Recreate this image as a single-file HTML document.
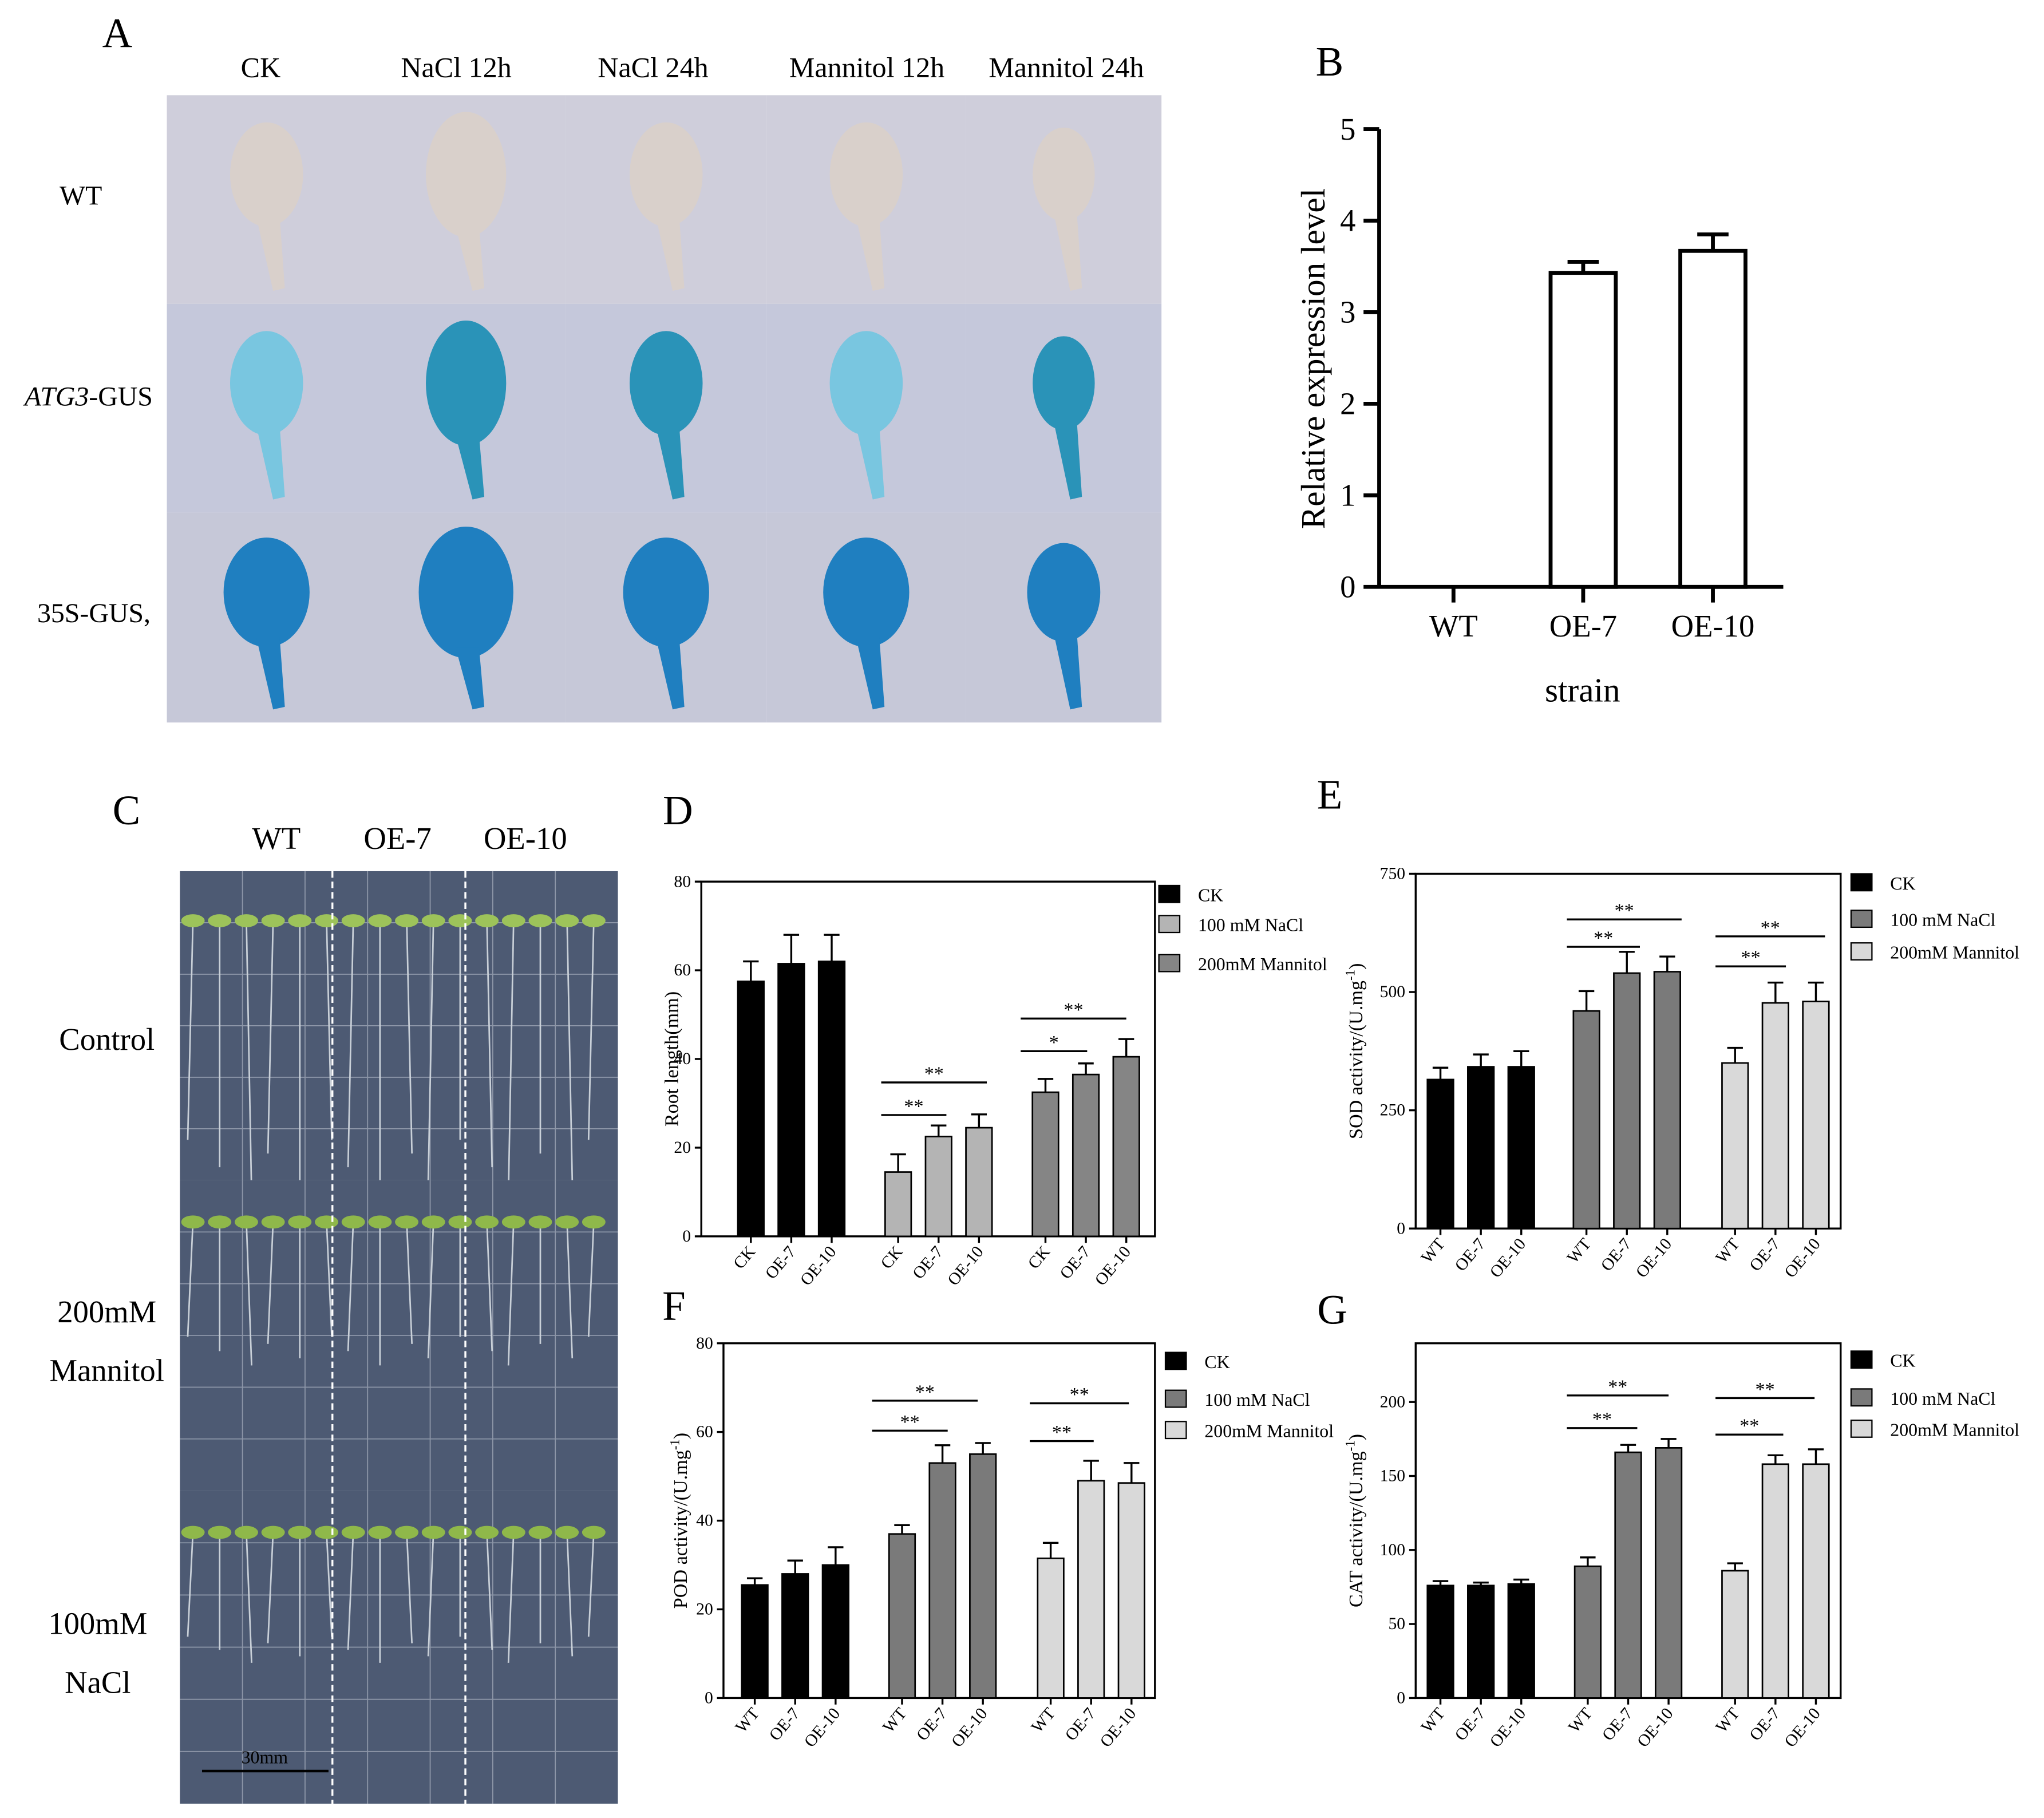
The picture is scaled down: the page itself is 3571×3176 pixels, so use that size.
<!DOCTYPE html>
<html><head><meta charset="utf-8"><style>
html,body{margin:0;padding:0;background:#fff}
svg{display:block}
text{font-family:"Liberation Serif",serif;fill:#000}
</style></head><body>
<svg id="fig" xmlns="http://www.w3.org/2000/svg" width="3571" height="3176" viewBox="0 0 1568 1394" preserveAspectRatio="none">
<rect width="1568" height="1394" fill="#fff"/>
<g id="panelA">
<text x="90" y="36" font-size="32" text-anchor="middle">A</text>
<text x="200" y="59" font-size="22" text-anchor="middle">CK</text>
<text x="350" y="59" font-size="22" text-anchor="middle">NaCl 12h</text>
<text x="501" y="59" font-size="22" text-anchor="middle">NaCl 24h</text>
<text x="665" y="59" font-size="22" text-anchor="middle">Mannitol 12h</text>
<text x="818" y="59" font-size="22" text-anchor="middle">Mannitol 24h</text>
<text x="62" y="157" font-size="21" text-anchor="middle">WT</text>
<text x="68" y="311" font-size="21" text-anchor="middle"><tspan font-style="italic">ATG3</tspan>-GUS</text>
<text x="72" y="477" font-size="21" text-anchor="middle">35S-GUS,</text>
<g id="gridA"></g>
</g>
<g id="panelC">
<text x="97" y="632" font-size="32" text-anchor="middle">C</text>
<text x="212" y="651" font-size="24" text-anchor="middle">WT</text>
<text x="305" y="651" font-size="24" text-anchor="middle">OE-7</text>
<text x="403" y="651" font-size="24" text-anchor="middle">OE-10</text>
<text x="82" y="805" font-size="24" text-anchor="middle">Control</text>
<text x="82" y="1014" font-size="24" text-anchor="middle">200mM</text>
<text x="82" y="1059" font-size="24" text-anchor="middle">Mannitol</text>
<text x="75" y="1253" font-size="24" text-anchor="middle">100mM</text>
<text x="75" y="1298" font-size="24" text-anchor="middle">NaCl</text>
<g id="plates"></g>
</g>
<g id="panelB"></g>
<g id="panelD"></g>
<g id="panelE"></g>
<g id="panelF"></g>
<g id="panelG"></g>
</svg>
<script>
const bCategories = ["WT","OE-7","OE-10"];
const bValues = [0, 3.43, 3.67];
const bErrors = [0, 0.12, 0.18];
const bTicks = [0,1,2,3,4,5];
const dLabels = ["CK","OE-7","OE-10"];
const dCK = [57.5, 61.5, 62];
const dCKErr = [4.5, 6.5, 6];
const dNaCl = [14.5, 22.5, 24.5];
const dNaClErr = [4, 2.5, 3];
const dMan = [32.5, 36.5, 40.5];
const dManErr = [3, 2.5, 4];
const dTicks = [0,20,40,60,80];
const eLabels = ["WT","OE-7","OE-10"];
const eCK = [315, 342, 342];
const eCKErr = [25, 26, 33];
const eNaCl = [460, 540, 543];
const eNaClErr = [42, 45, 32];
const eMan = [350, 477, 480];
const eManErr = [32, 43, 40];
const eTicks = [0,250,500,750];
const fCK = [25.5, 28, 30];
const fCKErr = [1.5, 3, 4];
const fNaCl = [37, 53, 55];
const fNaClErr = [2, 4, 2.5];
const fMan = [31.5, 49, 48.5];
const fManErr = [3.5, 4.5, 4.5];
const fTicks = [0,20,40,60,80];
const gCK = [76, 76, 77];
const gCKErr = [3, 2, 3];
const gNaCl = [89, 166, 169];
const gNaClErr = [6, 5, 6];
const gMan = [86, 158, 158];
const gManErr = [5, 6, 10];
const gTicks = [0,50,100,150,200];

const NS = "http://www.w3.org/2000/svg";
function mk(parent, tag, attrs, txt){
  const e = document.createElementNS(NS, tag);
  for (const k in attrs) e.setAttribute(k, attrs[k]);
  if (txt !== undefined) e.textContent = txt;
  parent.appendChild(e);
  return e;
}

(function(){
  const g = document.getElementById('gridA');
  const cols=[128,281,434,588,741,891], rows=[73,233,393,554];
  const bgs=["#cfcedb","#c5c8db","#c6c8d8"];
  const leafCols=["#d9d0cb","#79c6e0","#1f7fc0"];
  const sizes=[[1,1],[1.1,1.2],[1,1],[1,1],[0.85,0.9]];
  for(let r=0;r<3;r++)for(let c=0;c<5;c++){
    const x=cols[c],y=rows[r],w=cols[c+1]-x,h=rows[r+1]-y;
    const cell=mk(g,'rect',{x:x,y:y,width:w,height:h,fill:bgs[r]});
    
    
    let col=leafCols[r];
    if(r===1 && (c===1||c===2||c===4)) col="#2a93b8";
    const s=sizes[c];
    const cx=x+w/2, cy=y+h*0.38;
    const rx=(r===2?33:28)*s[0], ry=(r===2?42:40)*s[1];
    const leaf=mk(g,'ellipse',{cx:cx,cy:cy,rx:rx,ry:ry,fill:col});
    
    
    const pet=mk(g,'path',{d:`M${cx-8} ${cy+ry-8} L${cx+5} ${y+h-10} L${cx+14} ${y+h-12} L${cx+10} ${cy+ry-8} Z`,fill:col});
    
    
  }
})();

(function(){
  const g=document.getElementById('plates');
  const ys=[668,905,1143,1383];
  const rootLen=[210,110,100];
  for(let p=0;p<3;p++){
    const y0=ys[p],h=ys[p+1]-y0;
    const pl=mk(g,'rect',{x:138,y:y0,width:336,height:h,fill:"#4d5a73"});
    
    
    for(let i=1;i<6;i++){mk(g,'line',{x1:138,x2:474,y1:y0+i*h/6,y2:y0+i*h/6,stroke:"#8d96a8","stroke-width":0.8});}
    for(let i=1;i<7;i++){mk(g,'line',{x1:138+i*48,x2:138+i*48,y1:y0,y2:y0+h,stroke:"#8d96a8","stroke-width":0.8});}
    for(let s=0;s<16;s++){
      const sx=148+s*20.5, sy=y0+(p===0?38:32);
      mk(g,'line',{x1:sx,x2:sx+(s%3-1)*4,y1:sy,y2:sy+rootLen[p]*(0.8+0.2*((s*7)%5)/4),stroke:"#c9d0d8","stroke-width":1.2});
      mk(g,'ellipse',{cx:sx,cy:sy,rx:9,ry:5,fill:p===0?"#9dc35a":"#8fb84a"});
    }
  }
  for(const x of [255,357]){
    const d=mk(g,'line',{x1:x,x2:x,y1:668,y2:1383,stroke:"#fff","stroke-width":1.5,"stroke-dasharray":"5,3"});
    
    
  }
  const sb=mk(g,'line',{x1:155,x2:252,y1:1358,y2:1358,stroke:"#000","stroke-width":2});
  
  
  const st=mk(g,'text',{x:203,y:1352,"font-size":14,"text-anchor":"middle"},"30mm");
  
  
})();

(function(){
  const g=document.getElementById('panelB');
  const x0=1058,x1=1368,yb=450,yt=99,vmax=5;
  const Y=v=>yb-(v/vmax)*(yb-yt);
  const X=i=>1115+i*99.5;
  const L=mk(g,'text',{x:1020,y:58,"font-size":32,"text-anchor":"middle"},"B");
  
  mk(g,'line',{x1:x0,x2:x0,y1:yt,y2:yb,stroke:"#000","stroke-width":3});
  mk(g,'line',{x1:x0,x2:x1,y1:yb,y2:yb,stroke:"#000","stroke-width":3});
  bTicks.forEach(t=>{
    mk(g,'line',{x1:x0-12,x2:x0,y1:Y(t),y2:Y(t),stroke:"#000","stroke-width":3});
    const tl=mk(g,'text',{x:x0-18,y:Y(t)+8,"font-size":24,"text-anchor":"end"},String(t));
    
  });
  bCategories.forEach((c,i)=>{
    mk(g,'line',{x1:X(i),x2:X(i),y1:yb,y2:yb+12,stroke:"#000","stroke-width":3});
    const tl=mk(g,'text',{x:X(i),y:488,"font-size":24,"text-anchor":"middle"},c);
    
    if(bValues[i]>0){
      const b=mk(g,'rect',{x:X(i)-25,y:Y(bValues[i]),width:50,height:yb-Y(bValues[i]),fill:"#fff",stroke:"#000","stroke-width":3});
      
      const ey=Y(bValues[i]+bErrors[i]);
      mk(g,'line',{x1:X(i),x2:X(i),y1:Y(bValues[i]),y2:ey,stroke:"#000","stroke-width":3});
      mk(g,'line',{x1:X(i)-12,x2:X(i)+12,y1:ey,y2:ey,stroke:"#000","stroke-width":3});
    }
  });
  const xt=mk(g,'text',{x:1214,y:538,"font-size":26,"text-anchor":"middle"},"strain");
  
  const yt2=mk(g,'text',{x:0,y:0,"font-size":26,"text-anchor":"middle",transform:"translate(1016,275) rotate(-90)"},"Relative expression level");
  
})();

function grouped(cfg){
  const g=document.getElementById(cfg.id);
  const {bx0,bx1,yt,yb,vmax}=cfg;
  const Y=v=>yb-(v/vmax)*(yb-yt);
  const L=mk(g,'text',{x:cfg.lx,y:cfg.ly,"font-size":32,"text-anchor":"middle"},cfg.letter);
  
  const fr=mk(g,'rect',{x:bx0,y:cfg.top,width:bx1-bx0,height:yb-cfg.top,fill:"none",stroke:"#000","stroke-width":1.5});
  
  cfg.ticks.forEach(t=>{
    mk(g,'line',{x1:bx0-5,x2:bx0,y1:Y(t),y2:Y(t),stroke:"#000","stroke-width":1.5});
    const tl=mk(g,'text',{x:bx0-8,y:Y(t)+4,"font-size":13,"text-anchor":"end"},String(t));
    
  });
  const series=cfg.series;
  series.forEach((s,si)=>{
    s.vals.forEach((v,i)=>{
      const x=cfg.gx[si]+i*31;
      const b=mk(g,'rect',{x:x-10,y:Y(v),width:20,height:yb-Y(v),fill:s.color,stroke:"#000","stroke-width":1.2});
      
      
      const ey=Y(v+s.err[i]);
      mk(g,'line',{x1:x,x2:x,y1:Y(v),y2:ey,stroke:"#000","stroke-width":1.5});
      mk(g,'line',{x1:x-6,x2:x+6,y1:ey,y2:ey,stroke:"#000","stroke-width":1.5});
      mk(g,'line',{x1:x,x2:x,y1:yb,y2:yb+5,stroke:"#000","stroke-width":1.5});
      const tl=mk(g,'text',{x:0,y:0,"font-size":13,"text-anchor":"end",transform:`translate(${x+4},${yb+12}) rotate(-50)`},cfg.labels[i]);
      
    });
  });
  cfg.sig.forEach(s=>{
    const ln=mk(g,'line',{x1:s[0],x2:s[1],y1:s[2],y2:s[2],stroke:"#000","stroke-width":1.5});
    
    mk(g,'text',{x:(s[0]+s[1])/2,y:s[2]-2,"font-size":15,"text-anchor":"middle"},s[3]);
  });
  series.forEach((s,si)=>{
    const ly=cfg.legY[si];
    const sw=mk(g,'rect',{x:cfg.legX,y:ly-7,width:16,height:13,fill:s.color,stroke:"#000","stroke-width":1});
    
    const lt=mk(g,'text',{x:cfg.legX+30,y:ly+5,"font-size":14},s.name);
    
  });
  const ytl=mk(g,'text',{x:0,y:0,"font-size":15,"text-anchor":"middle",transform:`translate(${cfg.ytx},${(cfg.top+yb)/2}) rotate(-90)`});
  
  ytl.textContent=cfg.ytitle;
  if(cfg.sup){const ts=mk(ytl,'tspan',{dy:-6,"font-size":10},"-1");mk(ytl,'tspan',{dy:6},")");}
}
grouped({id:'panelD',letter:'D',lx:520,ly:632,bx0:538,bx1:886,top:676,yt:676,yb:948,vmax:80,ticks:dTicks,labels:dLabels,
  gx:[576,689,802],
  series:[{key:'ck',name:'CK',color:'#000',vals:dCK,err:dCKErr},{key:'nacl',name:'100 mM NaCl',color:'#b4b4b4',vals:dNaCl,err:dNaClErr},{key:'mannitol',name:'200mM Mannitol',color:'#858585',vals:dMan,err:dManErr}],
  sig:[[676,726,855,'**'],[676,757,830,'**'],[783,834,806,'*'],[783,864,781,'**']],
  legX:889,legY:[686,709,739],ytx:520,ytitle:'Root length(mm)'});
grouped({id:'panelE',letter:'E',lx:1020,ly:620,bx0:1086,bx1:1412,top:670,yt:670,yb:942,vmax:750,ticks:eTicks,labels:eLabels,
  gx:[1105,1217,1331],
  series:[{key:'ck',name:'CK',color:'#000',vals:eCK,err:eCKErr},{key:'nacl',name:'100 mM NaCl',color:'#7a7a7a',vals:eNaCl,err:eNaClErr},{key:'mannitol',name:'200mM Mannitol',color:'#d9d9d9',vals:eMan,err:eManErr}],
  sig:[[1202,1258,726,'**'],[1202,1290,705,'**'],[1316,1370,741,'**'],[1316,1400,718,'**']],
  legX:1420,legY:[677,705,730],ytx:1045,ytitle:'SOD activity/(U.mg',sup:true});
grouped({id:'panelF',letter:'F',lx:517,ly:1012,bx0:555,bx1:886,top:1030,yt:1030,yb:1302,vmax:80,ticks:fTicks,labels:eLabels,
  gx:[579,692,806],
  series:[{key:'ck',name:'CK',color:'#000',vals:fCK,err:fCKErr},{key:'nacl',name:'100 mM NaCl',color:'#7a7a7a',vals:fNaCl,err:fNaClErr},{key:'mannitol',name:'200mM Mannitol',color:'#d9d9d9',vals:fMan,err:fManErr}],
  sig:[[669,727,1097,'**'],[669,750,1074,'**'],[790,839,1105,'**'],[790,866,1076,'**']],
  legX:894,legY:[1044,1073,1097],ytx:527,ytitle:'POD activity/(U.mg',sup:true});
grouped({id:'panelG',letter:'G',lx:1022,ly:1015,bx0:1086,bx1:1412,top:1030,yt:1075,yb:1302,vmax:200,ticks:gTicks,labels:eLabels,
  gx:[1105,1218,1331],
  series:[{key:'ck',name:'CK',color:'#000',vals:gCK,err:gCKErr},{key:'nacl',name:'100 mM NaCl',color:'#7a7a7a',vals:gNaCl,err:gNaClErr},{key:'mannitol',name:'200mM Mannitol',color:'#d9d9d9',vals:gMan,err:gManErr}],
  sig:[[1202,1256,1095,'**'],[1202,1280,1070,'**'],[1316,1368,1100,'**'],[1316,1392,1072,'**']],
  legX:1420,legY:[1043,1072,1096],ytx:1045,ytitle:'CAT activity/(U.mg',sup:true});
</script>
</body></html>
